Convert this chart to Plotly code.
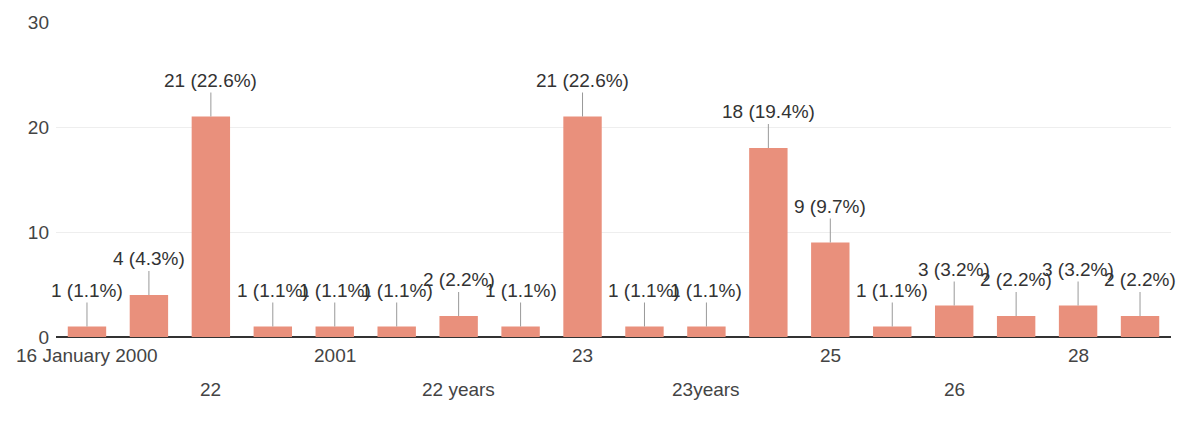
import plotly.graph_objects as go

# answers in the order the form shows them; only every other one has a visible tick
categories = ["16 January 2000", "21", "22", "2000", "2001", "21 years",
              "22 years", "22years", "23", "23 years", "23years", "24",
              "25", "24 years", "26", "27", "28", "29"]
counts = [1, 4, 21, 1, 1, 1, 2, 1, 21, 1, 1, 18, 9, 1, 3, 2, 3, 2]
percents = [1.1, 4.3, 22.6, 1.1, 1.1, 1.1, 2.2, 1.1, 22.6, 1.1, 1.1, 19.4,
            9.7, 1.1, 3.2, 2.2, 3.2, 2.2]
y_ticks = [0, 10, 20, 30]

font = "Arial, Liberation Sans, sans-serif"
fs = 19

fig = go.Figure(go.Bar(x=categories, y=counts, marker_color="#e9907c",
                       marker_line_width=0, hoverinfo="skip"))

# value labels with a short stem, like the forms summary chart
# (category index as x: numeric-looking names like "2001" would be read as an index)
for i, (n, p) in enumerate(zip(counts, percents)):
    fig.add_annotation(x=i, y=n, text=f"{n} ({p}%)", showarrow=True,
                       arrowhead=0, arrowwidth=1, arrowcolor="#999999",
                       ax=0, ay=-24, yanchor="bottom",
                       font=dict(family=font, size=fs, color="#333333"))

# staggered category labels: shown ones alternate between two rows
for i, c in enumerate(categories):
    if i % 2:
        continue
    row = (i // 2) % 2
    fig.add_annotation(x=i, y=0, text=c, showarrow=False, yanchor="top",
                       yshift=-6 - row * 34,
                       font=dict(family=font, size=fs, color="#444444"))

fig.update_layout(
    width=1186, height=425,
    margin=dict(l=48, r=23, t=14, b=96),
    paper_bgcolor="white", plot_bgcolor="white",
    bargap=0.38, showlegend=False,
    font=dict(family=font, size=fs, color="#444444"),
)
fig.update_xaxes(type="category", categoryorder="array",
                 categoryarray=categories, range=[-0.5, len(categories) - 0.5],
                 showticklabels=False, showline=False, showgrid=False,
                 automargin=False)
fig.update_yaxes(range=[0, 30], tickvals=y_ticks, showgrid=True,
                 gridcolor="#eeeeee", zeroline=True, zerolinecolor="#333333",
                 zerolinewidth=2, ticks="", ticklabelstandoff=6,
                 automargin=False,
                 tickfont=dict(family=font, size=fs, color="#444444"))

fig.write_html("out.html")
